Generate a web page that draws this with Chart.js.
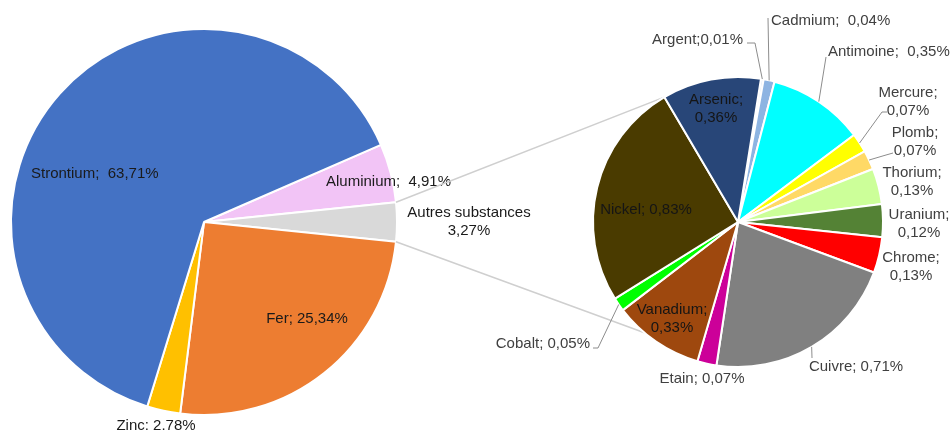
<!DOCTYPE html>
<html>
<head>
<meta charset="utf-8">
<script src="https://cdn.jsdelivr.net/npm/chart.js@4.4.0/dist/chart.umd.min.js"></script>
<style>
html, body { margin: 0; padding: 0; background: #fff; }
#wrap { position: relative; width: 950px; height: 434px; overflow: hidden; }
#wrap canvas { position: absolute; left: 0; top: 0; }
</style>
</head>
<body>
<div id="wrap">
  <canvas id="main" width="950" height="434"></canvas>
  <canvas id="detail" width="950" height="434"></canvas>
</div>
<script>
// main pie (clockwise, starting at Aluminium)
var mainCategories = ['Aluminium', 'Autres substances', 'Fer', 'Zinc', 'Strontium'];
var mainValues = [4.91, 3.27, 25.34, 2.78, 63.71];
var mainTexts = [['Aluminium;  4,91%'], ['Autres substances', '3,27%'], ['Fer; 25,34%'], ['Zinc: 2.78%'], ['Strontium;  63,71%']];

// detail pie = "Autres substances" (clockwise, starting at Argent)
var detailCategories = ['Argent', 'Cadmium', 'Antimoine', 'Mercure', 'Plomb', 'Thorium', 'Uranium',
    'Chrome', 'Cuivre', 'Etain', 'Vanadium', 'Cobalt', 'Nickel', 'Arsenic'];
var detailValues = [0.01, 0.04, 0.35, 0.07, 0.07, 0.13, 0.12, 0.13, 0.71, 0.07, 0.33, 0.05, 0.83, 0.36];
var detailTexts = [['Argent;0,01%'], ['Cadmium;  0,04%'], ['Antimoine;  0,35%'], ['Mercure;', '0,07%'],
    ['Plomb;', '0,07%'], ['Thorium;', '0,13%'], ['Uranium;', '0,12%'], ['Chrome;', '0,13%'],
    ['Cuivre; 0,71%'], ['Etain; 0,07%'], ['Vanadium;', '0,33%'], ['Cobalt; 0,05%'], ['Nickel; 0,83%'], ['Arsenic;', '0,36%']];

// styles
var mainColors = ['#F2C4F6', '#D9D9D9', '#ED7D31', '#FFC000', '#4472C4'];
var detailColors = ['#DDEBF7', '#8DB4E2', '#00FFFF', '#FFFF00', '#FFD966', '#CCFF99', '#548235',
    '#FF0000', '#808080', '#CC0099', '#9E480E', '#00FF00', '#4A3B00', '#284678'];

// label placement (middle y of first line)
var mainLabelPos = [
    {x: 326, y: 182, align: 'left'},
    {x: 469, y: 213, align: 'center'},
    {x: 307, y: 319, align: 'center'},
    {x: 156, y: 426, align: 'center'},
    {x: 31, y: 174, align: 'left'}
];
var detailLabelPos = [
    {x: 743, y: 40, align: 'right', leader: [[747, 43], [755, 43]]},
    {x: 771, y: 21, align: 'left', leader: [[768, 18]]},
    {x: 828, y: 52, align: 'left', leader: [[826, 57]]},
    {x: 908, y: 93, align: 'center', leader: [[887, 112], [882, 112]]},
    {x: 915, y: 133, align: 'center', leader: [[893, 153], [886, 155]]},
    {x: 912, y: 173, align: 'center'},
    {x: 919, y: 215, align: 'center'},
    {x: 911, y: 258, align: 'center'},
    {x: 856, y: 367, align: 'center', leader: [[812, 358]]},
    {x: 702, y: 379, align: 'center'},
    {x: 672, y: 310, align: 'center', dark: true},
    {x: 590, y: 344, align: 'right', leader: [[593, 348], [598, 348]]},
    {x: 646, y: 210, align: 'center', dark: true},
    {x: 716, y: 100, align: 'center', dark: true}
];

function arcProps(chart, i) {
    return chart.getDatasetMeta(0).data[i].getProps(['x', 'y', 'startAngle', 'endAngle', 'outerRadius'], true);
}

function makeLabelPlugin(texts, layout, color) {
    return {
        id: 'sliceLabels',
        afterDatasetsDraw: function(chart) {
            var ctx = chart.ctx;
            ctx.save();
            ctx.font = '15px "Liberation Sans", Arial, sans-serif';
            ctx.textBaseline = 'middle';
            for (var i = 0; i < layout.length; i++) {
                var p = layout[i];
                if (p.leader) {
                    // leader ends on the slice edge, at the middle of the arc
                    var a = arcProps(chart, i);
                    var mid = (a.startAngle + a.endAngle) / 2;
                    ctx.strokeStyle = '#8c8c8c';
                    ctx.lineWidth = 1;
                    ctx.beginPath();
                    ctx.moveTo(p.leader[0][0], p.leader[0][1]);
                    for (var k = 1; k < p.leader.length; k++) ctx.lineTo(p.leader[k][0], p.leader[k][1]);
                    ctx.lineTo(a.x + Math.cos(mid) * a.outerRadius, a.y + Math.sin(mid) * a.outerRadius);
                    ctx.stroke();
                }
                ctx.fillStyle = p.dark ? '#151515' : color;
                ctx.textAlign = p.align;
                for (var j = 0; j < texts[i].length; j++) {
                    ctx.fillText(texts[i][j], p.x, p.y + j * 18);
                }
            }
            ctx.restore();
        }
    };
}

var mainChart = new Chart(document.getElementById('main').getContext('2d'), {
    type: 'pie',
    data: {
        labels: mainCategories,
        datasets: [{data: mainValues, backgroundColor: mainColors, borderColor: '#ffffff', borderWidth: 2}]
    },
    options: {
        responsive: false,
        animation: false,
        devicePixelRatio: 1,
        // centre "Autres substances" on the horizontal
        rotation: 90 - (mainValues[0] + mainValues[1] / 2) * 3.6,
        layout: {padding: {left: 10, top: 28, right: 552, bottom: 18}},
        plugins: {legend: {display: false}, tooltip: {enabled: false}}
    },
    plugins: [makeLabelPlugin(mainTexts, mainLabelPos, '#1a1a1a')]
});

// grey lines joining "Autres substances" to the detail pie
var connectorPlugin = {
    id: 'connectors',
    beforeDatasetsDraw: function(chart) {
        var src = arcProps(mainChart, 1);
        var last = arcProps(chart, detailValues.length - 1);
        var ctx = chart.ctx;
        ctx.save();
        ctx.strokeStyle = '#cfcfcf';
        ctx.lineWidth = 1.5;
        ctx.beginPath();
        ctx.moveTo(src.x + Math.cos(src.startAngle) * src.outerRadius, src.y + Math.sin(src.startAngle) * src.outerRadius);
        ctx.lineTo(last.x + Math.cos(last.startAngle) * last.outerRadius, last.y + Math.sin(last.startAngle) * last.outerRadius);
        ctx.moveTo(src.x + Math.cos(src.endAngle) * src.outerRadius, src.y + Math.sin(src.endAngle) * src.outerRadius);
        ctx.lineTo(last.x, last.y + last.outerRadius);
        ctx.stroke();
        ctx.restore();
    }
};

var detailChart = new Chart(document.getElementById('detail').getContext('2d'), {
    type: 'pie',
    data: {
        labels: detailCategories,
        datasets: [{data: detailValues, backgroundColor: detailColors, borderColor: '#ffffff', borderWidth: 2}]
    },
    options: {
        responsive: false,
        animation: false,
        devicePixelRatio: 1,
        rotation: 9.1,
        layout: {padding: {left: 592, top: 76, right: 66, bottom: 66}},
        plugins: {legend: {display: false}, tooltip: {enabled: false}}
    },
    plugins: [connectorPlugin, makeLabelPlugin(detailTexts, detailLabelPos, '#404040')]
});
</script>
</body>
</html>
